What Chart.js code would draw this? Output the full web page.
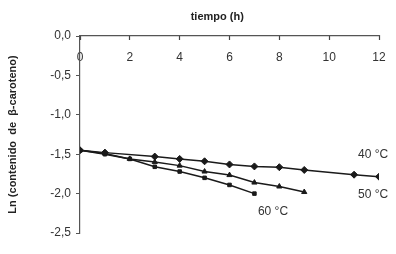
<!DOCTYPE html>
<html>
<head>
<meta charset="utf-8">
<script src="https://cdn.jsdelivr.net/npm/chart.js@4.4.1/dist/chart.umd.min.js"></script>
<style>
  html, body { margin: 0; padding: 0; background: #fff; }
</style>
</head>
<body>
<canvas id="grafica" width="396" height="254"></canvas>
<script>
// tiempo (h) y Ln(contenido de beta-caroteno) para cada temperatura
const tiempo40 = [0, 1, 3, 4, 5, 6, 7, 8, 9, 11, 12];
const ln40 = [-1.45, -1.48, -1.53, -1.56, -1.59, -1.63, -1.655, -1.665, -1.70, -1.76, -1.785];

const tiempo50 = [0, 1, 2, 3, 4, 5, 6, 7, 8, 9];
const ln50 = [-1.45, -1.49, -1.56, -1.60, -1.645, -1.72, -1.765, -1.86, -1.91, -1.98];

const tiempo60 = [0, 1, 2, 3, 4, 5, 6, 7];
const ln60 = [-1.45, -1.50, -1.56, -1.66, -1.72, -1.80, -1.89, -2.00];

const xTicks = [0, 2, 4, 6, 8, 10, 12];
const yTicks = [0, -0.5, -1.0, -1.5, -2.0, -2.5];

// etiquetas de temperatura junto a cada recta
const etiquetas = [
  { texto: '40 °C', x: 11.16, y: -1.51 },
  { texto: '50 °C', x: 11.16, y: -2.02 },
  { texto: '60 °C', x: 7.14, y: -2.23 }
];

const toPoints = (xs, ys) => xs.map((x, i) => ({ x: x, y: ys[i] }));

const serie = (label, xs, ys, style, radius) => ({
  label: label,
  data: toPoints(xs, ys),
  borderColor: '#1a1a1a',
  backgroundColor: '#1a1a1a',
  borderWidth: 1.5,
  pointStyle: style,
  pointRadius: radius,
  pointBorderWidth: 1,
  fill: false,
  tension: 0
});

const etiquetasPlugin = {
  id: 'etiquetas',
  afterDatasetsDraw(chart) {
    const c = chart.ctx;
    const sx = chart.scales.x, sy = chart.scales.y;
    c.save();
    c.font = '12px "Liberation Sans", Arial, sans-serif';
    c.fillStyle = '#333';
    c.textAlign = 'left';
    c.textBaseline = 'middle';
    etiquetas.forEach(e => {
      c.fillText(e.texto, sx.getPixelForValue(e.x), sy.getPixelForValue(e.y));
    });
    c.restore();
  }
};

const ctx = document.getElementById('grafica').getContext('2d');
const fuente = '"Liberation Sans", Arial, sans-serif';

new Chart(ctx, {
  type: 'line',
  data: {
    datasets: [
      serie('40 °C', tiempo40, ln40, 'rectRot', 3.5),
      serie('50 °C', tiempo50, ln50, 'triangle', 3),
      serie('60 °C', tiempo60, ln60, 'rect', 2.5)
    ]
  },
  options: {
    responsive: false,
    animation: false,
    devicePixelRatio: 1,
    layout: { padding: { top: 0, left: 0, right: 17, bottom: 21 } },
    plugins: { legend: { display: false }, tooltip: { enabled: false } },
    scales: {
      x: {
        type: 'linear',
        position: 'top',
        min: 0,
        max: 12,
        afterFit: s => { s.height = 36; s.paddingLeft = 0; s.paddingRight = 0; },
        afterBuildTicks: s => { s.ticks = xTicks.map(v => ({ value: v })); },
        grid: { drawOnChartArea: false, drawTicks: true, tickLength: -4, color: '#444', tickColor: '#444', tickWidth: 1.2 },
        border: { color: '#555', width: 1.2 },
        ticks: {
          mirror: true,
          padding: 14,
          color: '#333',
          font: { family: fuente, size: 12 },
          maxRotation: 0,
          autoSkip: false
        },
        title: {
          display: true,
          text: 'tiempo (h)        ',
          color: '#222',
          font: { family: fuente, size: 11, weight: 'bold' },
          padding: { top: 10, bottom: 0 }
        }
      },
      y: {
        type: 'linear',
        min: -2.5,
        max: 0,
        afterFit: s => { s.width = 80; },
        afterBuildTicks: s => { s.ticks = yTicks.map(v => ({ value: v })); },
        grid: { drawOnChartArea: false, tickLength: 4, color: '#555', tickWidth: 1 },
        border: { color: '#555', width: 1.2 },
        ticks: {
          padding: 5,
          color: '#333',
          font: { family: fuente, size: 12 },
          callback: v => v.toFixed(1).replace('.', ',')
        },
        title: {
          display: true,
          text: 'Ln (contenido  de  β-caroteno)',
          color: '#222',
          font: { family: fuente, size: 11, weight: 'bold' },
          padding: { top: 6, bottom: 0 }
        }
      }
    }
  },
  plugins: [etiquetasPlugin]
});
</script>
</body>
</html>
